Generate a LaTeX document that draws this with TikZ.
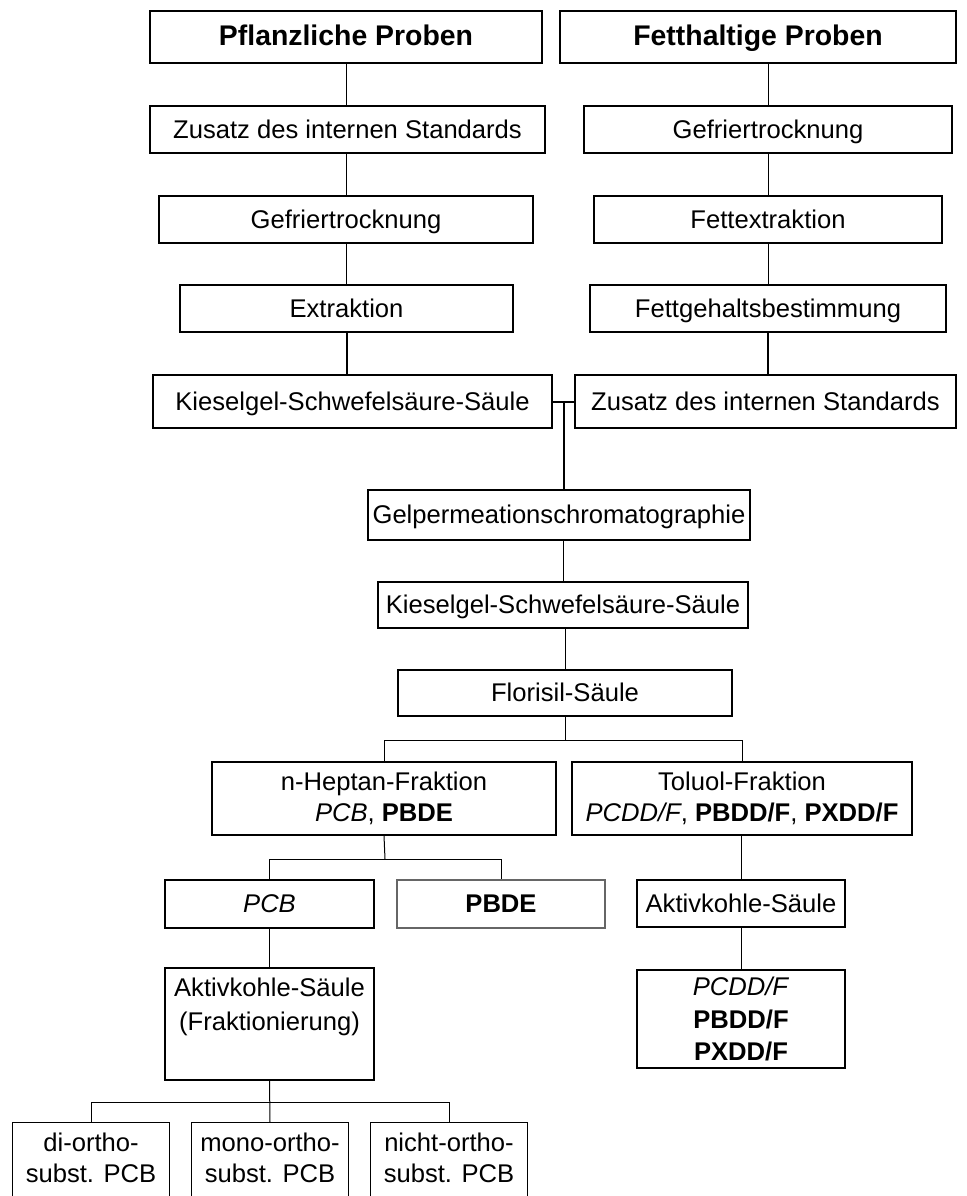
\documentclass[tikz,border=0pt]{standalone}
\usepackage{fontspec}
\setmainfont{Liberation Sans}
\usepackage{tikz}
\usetikzlibrary{positioning,calc}
\tikzset{
	box/.style={draw, line width=0.65pt, align=center, inner sep=0pt,
		font=\fontsize{12.8}{15.5}\selectfont},
	onebox/.style={box, text height=11.4pt, text depth=2.6pt},
	headbox/.style={onebox, font=\fontsize{14.2}{16}\selectfont\bfseries},
	link/.style={line width=0.5pt},
	thicklink/.style={line width=1pt}
}

\begin{document}
\begin{tikzpicture}[x=0.5pt, y=-0.5pt]
				\useasboundingbox (0,0) rectangle (966,1196);
				\clip (0,0) rectangle (966,1196);
				
				%% ── Left column: Pflanzliche Proben ─────────────────────────────
				\node[headbox, minimum width=196pt, minimum height=26pt] (pfl) at (346,37)
				{Pflanzliche Proben};
				\node[onebox, minimum width=197.5pt, minimum height=23.5pt] (zusL) at (347.5,129.5)
				{Zusatz des internen Standards};
				\node[onebox, minimum width=187pt, minimum height=23.5pt] (gefL) at (346,219.5)
				{Gefriertrocknung};
				\node[onebox, minimum width=166.5pt, minimum height=23.5pt] (extr) at (346.5,308.5)
				{Extraktion};
				\node[onebox, minimum width=199.5pt, minimum height=26.5pt] (kieL) at (352.5,401.5)
				{Kieselgel-Schwefelsäure-Säule};
				
				%% ── Right column: Fetthaltige Proben ────────────────────────────
				\node[headbox, minimum width=198pt, minimum height=26pt] (fett) at (758,37)
				{Fetthaltige Proben};
				\node[onebox, minimum width=184pt, minimum height=23.5pt] (gefR) at (768,129.5)
				{Gefriertrocknung};
				\node[onebox, minimum width=174pt, minimum height=23.5pt] (fextr) at (768,219.5)
				{Fettextraktion};
				\node[onebox, minimum width=178pt, minimum height=23.5pt] (fgeh) at (768,308.5)
				{Fettgehaltsbestimmung};
				\node[onebox, minimum width=190.5pt, minimum height=26.5pt] (zusR) at (765.5,401.5)
				{Zusatz des internen Standards};
				
				%% ── Common clean-up ─────────────────────────────────────────────
				\node[onebox, minimum width=191pt, minimum height=25pt] (gpc) at (559,515)
				{Gelpermeationschromatographie};
				\node[onebox, minimum width=185pt, minimum height=23pt] (kie2) at (563,605)
				{Kieselgel-Schwefelsäure-Säule};
				\node[onebox, minimum width=167pt, minimum height=23pt] (flor) at (565,693)
				{Florisil-Säule};
				
				%% ── Fractions ───────────────────────────────────────────────────
				\node[box, minimum width=172pt, minimum height=36.5pt] (hept) at (384,798.5)
				{n-Heptan-Fraktion\\ \textit{PCB}, \textbf{PBDE}};
				\node[box, minimum width=170pt, minimum height=36.5pt] (tol) at (742,798.5)
				{Toluol-Fraktion\\ \textit{PCDD/F}, \textbf{PBDD/F}, \textbf{PXDD/F}};
				
				\node[onebox, minimum width=104.5pt, minimum height=24pt] (pcb) at (269.5,904)
				{\textit{PCB}};
				\node[onebox, draw=black!60, minimum width=104pt, minimum height=24pt] (pbde) at (501,904)
				{\textbf{PBDE}};
				\node[onebox, minimum width=104pt, minimum height=23.5pt] (aktR) at (741,903.5)
				{Aktivkohle-Säule};
				
				\node[box, font=\fontsize{12.8}{17}\selectfont,
				minimum width=104.5pt, minimum height=56pt] (aktL) at (269.5,1024)
				{Aktivkohle-Säule\\(Fraktionierung)\\[3pt]};
				\node[box, font=\fontsize{12.8}{16.2}\selectfont,
				minimum width=104pt, minimum height=49pt] (pcddf) at (741,1019)
				{\textit{PCDD/F}\\ \textbf{PBDD/F}\\ \textbf{PXDD/F}};
				
				%% ── PCB congener groups (cut at the lower edge) ─────────────────
				\node[box, anchor=north, inner ysep=5pt, text depth=14pt,
				minimum width=78.5pt] (di) at (91,1122)
				{di-ortho-\\subst. PCB};
				\node[box, anchor=north, inner ysep=5pt, text depth=14pt,
				minimum width=78.5pt] (mono) at (270,1122)
				{mono-ortho-\\subst. PCB};
				\node[box, anchor=north, inner ysep=5pt, text depth=14pt,
				minimum width=78.5pt] (nicht) at (449,1122)
				{nicht-ortho-\\subst. PCB};
				
				%% ── Connectors ──────────────────────────────────────────────────
				\draw[link] (pfl.south) -- (pfl.south |- zusL.north);
				\draw[link] (gefL.north |- zusL.south) -- (gefL.north);
				\draw[link] (gefL.south) -- (gefL.south |- extr.north);
				\draw[thicklink] (extr.south) -- (extr.south |- kieL.north);
				
				\draw[link] (gefR.north |- fett.south) -- (gefR.north);
				\draw[link] (gefR.south) -- (fextr.north);
				\draw[link] (fextr.south) -- (fgeh.north);
				\draw[thicklink] (fgeh.south) -- (fgeh.south |- zusR.north);
				
				\coordinate (j) at ($(kieL.east)!0.5!(zusR.west)$);
				\draw[thicklink] (kieL.east) -- (zusR.west);
				\draw[thicklink] (j) -- (j |- gpc.north);
				
				\draw[link] (j |- gpc.south) -- (j |- kie2.north);
				\draw[link] (flor.north |- kie2.south) -- (flor.north);
				
				\coordinate (b1) at (565,740);
				\draw[link] (flor.south) -- (b1);
				\draw[link] (hept.north) |- (b1) -| (tol.north);
				
				\coordinate (b2) at (385,859);
				\draw[link] (hept.south) -- (b2);
				\draw[link] (pcb.north) |- (b2) -| (pbde.north);
				
				\draw[link] (aktR.north |- tol.south) -- (aktR.north);
				\draw[link] (aktR.south) -- (pcddf.north);
				\draw[link] (pcb.south) -- (pcb.south |- aktL.north);
				
				\coordinate (b3) at (270,1102);
				\draw[link] (aktL.south) -- (mono.north);
				\draw[link] (di.north) |- (b3) -| (nicht.north);
				
\end{tikzpicture}
\end{document}
